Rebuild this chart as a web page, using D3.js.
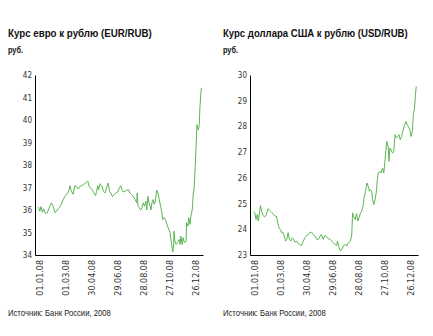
<!DOCTYPE html>
<html><head><meta charset="utf-8">
<script src="https://cdn.jsdelivr.net/npm/d3@7/dist/d3.min.js"></script>
<style>
html,body{margin:0;padding:0;background:#fff;}
svg{display:block;}
.title{font-family:"Liberation Sans Narrow","Arial Narrow","Liberation Sans",sans-serif;font-weight:bold;font-size:11.5px;fill:#111;}
.unit{font-family:"Liberation Sans Narrow","Arial Narrow","Liberation Sans",sans-serif;font-weight:bold;font-size:9px;fill:#111;}
.src{font-family:"Liberation Sans Narrow","Arial Narrow","Liberation Sans",sans-serif;font-size:9px;fill:#222;}
.ytick{font-family:"DejaVu Sans Condensed","DejaVu Sans",sans-serif;font-size:8px;fill:#333;}
.xtick{font-family:"DejaVu Sans","Liberation Sans",sans-serif;font-size:8px;fill:#333;}
</style></head>
<body>
<svg id="c" width="433" height="336"></svg>
<script>
// days since 01.01.2008 and exchange rates
const eurDays = [-4,-1,2,5,8,11,15,19,22,26,30,34,38,42,46,49,53,57,61,65,69,72,76,80,84,88,92,96,99,103,107,110,113,116,120,124,128,130,133,135,138,142,146,150,153,157,160,163,167,171,175,179,183,186,189,192,196,200,204,207,211,215,219,223,224,226,229,232,235,238,241,244,246,249,251,254,256,258,261,263,266,269,272,275,278,281,283,286,289,292,294,297,300,302,304,306,308,309,311,314,317,319,321,323,325,328,330,332,334,337,338,341,343,346,348,351,354,355,358,360,362,365,367,369,372,374];
const eurValues = [36.13,35.95,36.15,35.9,36.05,35.88,35.85,36.0,36.17,36.32,36.17,35.88,35.95,36.07,36.17,36.25,36.47,36.6,36.7,36.8,37.08,36.83,36.7,37.08,37.05,36.93,37.05,37.08,37.13,37.17,37.23,37.28,37.05,36.98,36.9,36.76,36.64,36.83,37.08,36.9,37.17,37.08,36.83,36.76,36.98,37.2,36.83,36.76,36.6,36.68,36.76,36.8,36.98,37.08,36.9,36.8,36.83,36.88,36.9,36.76,36.7,36.61,36.47,36.32,36.76,36.17,36.1,36.0,36.1,36.32,36.17,36.39,36.0,36.61,36.32,36.17,36.0,36.32,36.47,36.25,36.39,36.88,36.76,36.47,36.17,35.88,35.58,35.66,35.58,35.43,35.28,35.14,34.99,34.69,34.4,34.13,34.4,35.06,34.62,34.47,34.55,34.62,34.69,34.47,34.84,34.47,34.77,34.62,34.55,34.62,35.43,35.28,35.66,35.36,35.73,36.0,36.83,36.83,37.94,38.83,39.79,39.56,39.7,40.6,41.41,41.41];

const usdDays = [-4,-1,2,5,7,9,12,15,18,21,24,27,30,33,36,39,42,46,49,52,55,58,61,64,67,70,73,76,79,82,86,89,92,96,99,103,107,111,115,119,123,126,130,134,138,142,146,150,153,157,161,165,169,173,177,180,184,188,190,194,197,200,204,207,211,214,217,220,223,225,227,231,234,237,240,243,246,249,252,255,258,261,264,266,269,271,274,277,280,282,284,288,291,294,297,300,302,304,307,309,311,314,317,320,323,326,329,332,335,338,341,345,348,351,354,357,360,363,365,368,370,372];
const usdValues = [24.70,24.64,24.38,24.58,24.32,24.51,24.92,24.70,24.54,24.49,24.51,24.64,24.80,24.74,24.69,24.64,24.58,24.51,24.51,24.25,24.06,23.99,23.87,23.89,23.74,23.54,23.61,23.87,23.61,23.54,23.67,23.61,23.50,23.54,23.45,23.41,23.37,23.54,23.67,23.76,23.80,23.87,23.89,23.80,23.74,23.61,23.61,23.74,23.80,23.61,23.76,23.71,23.63,23.61,23.54,23.48,23.41,23.37,23.54,23.28,23.16,23.22,23.35,23.41,23.35,23.45,23.50,23.54,23.80,24.64,24.51,24.38,24.61,24.32,24.45,24.64,24.70,24.90,25.29,25.48,25.80,25.67,25.48,25.54,25.48,25.16,24.96,25.16,25.48,25.93,26.19,26.25,26.19,26.38,26.19,26.71,27.09,27.42,27.22,26.64,27.16,27.09,26.96,27.03,27.68,27.55,27.61,27.68,27.48,27.61,27.80,28.06,28.19,28.06,28.00,27.87,27.61,27.80,28.45,28.71,29.23,29.55];

const tickDates = ["01.01.08","01.03.08","30.04.08","29.06.08","28.08.08","27.10.08","26.12.08"];
const eurTicks = [34,35,36,37,38,39,40,41,42];
const usdTicks = [23,24,25,26,27,28,29,30];

const titles = ["Курс евро к рублю (EUR/RUB)","Курс доллара США к рублю (USD/RUB)"];
const titleWidths = [144, 185];
const unitLabel = "руб.";
const sourceLabel = "Источник: Банк России, 2008";

const parse = d3.timeParse("%d.%m.%y");
const base = new Date(2008,0,1);
const toDate = d => d3.timeDay.offset(base, d);

const svg = d3.select("#c");

// place a text at (x,y), horizontally condensed to width w if wider
function fitText(parent, cls, x, y, str, w) {
  const gg = parent.append("g");
  const t = gg.append("text").attr("class", cls).attr("x", 0).attr("y", 0).text(str);
  const len = t.node().getComputedTextLength();
  const s = len > w ? w / len : 1;
  gg.attr("transform", `translate(${x},${y}) scale(${s},1)`);
  return t;
}

function panel(ox, idx, days, values, yDomain, yTicks) {
  const g = svg.append("g").attr("transform", `translate(${ox},0)`);
  fitText(g, "title", 8, 37, titles[idx], titleWidths[idx]);
  fitText(g, "unit", 8, 52.5, unitLabel, 15);
  fitText(g, "src", 8, 316, sourceLabel, 103);

  const x = d3.scaleTime().domain([toDate(-12), toDate(376)]).range([35, 203]);
  const y = d3.scaleLinear().domain(yDomain).range([255, 75]);

  const yAxis = d3.axisLeft(y).tickValues(yTicks).tickSize(0).tickPadding(3).tickFormat(d3.format("d"));
  const ya = g.append("g").attr("transform","translate(35,0)").call(yAxis);
  ya.select(".domain").attr("stroke","#000").attr("stroke-width",1);
  ya.selectAll("text").attr("class","ytick").attr("fill",null);

  const xAxis = d3.axisBottom(x).tickValues(tickDates.map(parse)).tickSize(0).tickFormat(d3.timeFormat("%d.%m.%y"));
  const xa = g.append("g").attr("transform","translate(0,255)").call(xAxis);
  xa.select(".domain").attr("stroke","#000").attr("stroke-width",1);
  xa.selectAll("text").attr("class","xtick").attr("fill",null)
    .attr("transform","rotate(-90)").attr("text-anchor","end")
    .attr("x",-5).attr("y",0).attr("dy","0.32em");

  const data = days.map((d,i)=>({date:toDate(d), v:values[i]}));
  const line = d3.line().x(d=>x(d.date)).y(d=>y(d.v));
  g.append("path").datum(data).attr("d",line)
    .attr("fill","none").attr("stroke","#5cb552").attr("stroke-width",1);
}

panel(0, 0, eurDays, eurValues, [34,42], eurTicks);
panel(215, 1, usdDays, usdValues, [23,30], usdTicks);
</script>
</body></html>
